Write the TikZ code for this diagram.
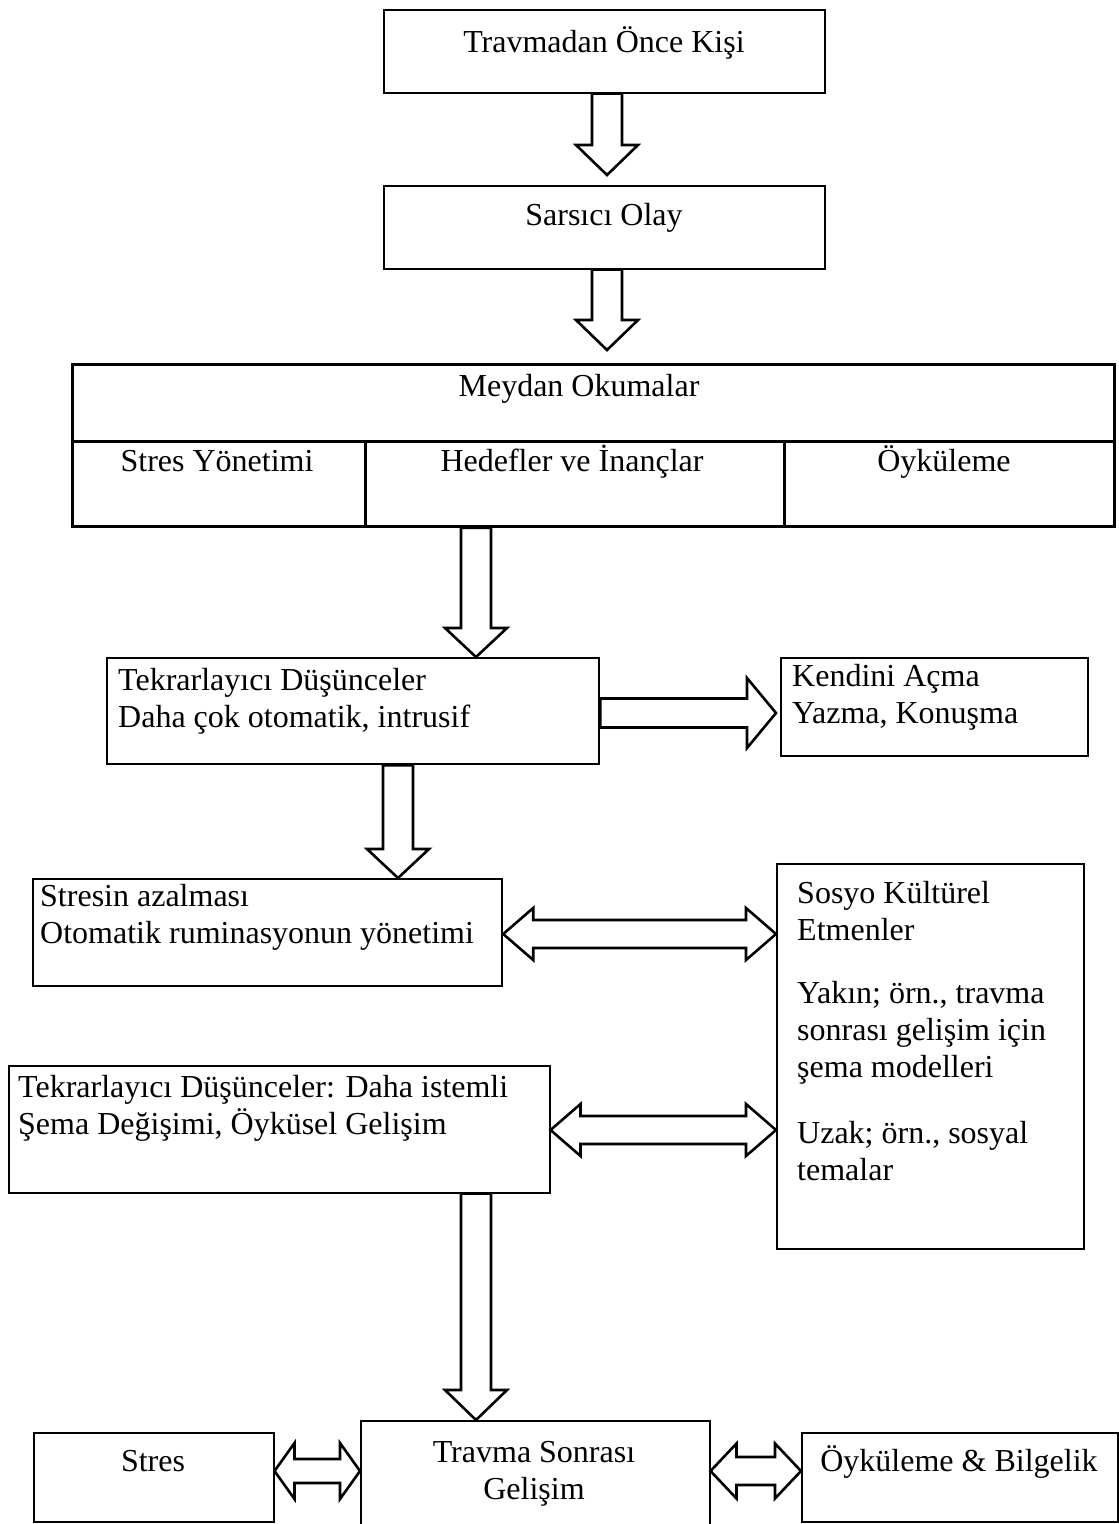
\documentclass[tikz,border=0pt]{standalone}
\usepackage{fontspec}
\setmainfont{Liberation Serif}
\usetikzlibrary{calc}
\tikzset{
  box/.style={draw, line width=1.5pt, rectangle, inner sep=0pt, anchor=north west},
  thickbox/.style={box, line width=2.2pt},
  heavybox/.style={box, line width=2.7pt},
  txt/.style={inner sep=0pt, font=\fontsize{32}{37}\selectfont},
  barrow/.style={draw, line width=2.6pt, fill=white, line join=miter},
}
\newcommand\mybox[6][box]{\node[#1, minimum width={#5-#3}, minimum height={#6-#4}] (#2) at (#3,#4) {};}
% down block arrow: start, tip, shaft half, head half, head length
\newcommand\downarr[5]{\path[barrow] let \p1=(#1), \p2=(#2) in
  (\x2-#3pt,\y1) -- (\x2-#3pt,\y2+#5pt) -- (\x2-#4pt,\y2+#5pt) -- (\x2,\y2) --
  (\x2+#4pt,\y2+#5pt) -- (\x2+#3pt,\y2+#5pt) -- (\x2+#3pt,\y1) -- cycle;}
% right block arrow: start, tip, shaft half, head half, head length
\newcommand\rightarr[5]{\path[barrow] let \p1=(#1), \p2=(#2) in
  (\x1,\y1+#3pt) -- (\x2-#5pt,\y1+#3pt) -- (\x2-#5pt,\y1+#4pt) -- (\x2,\y1) --
  (\x2-#5pt,\y1-#4pt) -- (\x2-#5pt,\y1-#3pt) -- (\x1,\y1-#3pt) -- cycle;}
% double block arrow: left tip, right tip, head length, head half, shaft half
\newcommand\dblarr[5]{\path[barrow] let \p1=(#1), \p2=(#2) in
  (\x1,\y1) -- (\x1+#3pt,\y1+#4pt) -- (\x1+#3pt,\y1+#5pt) -- (\x2-#3pt,\y1+#5pt) --
  (\x2-#3pt,\y1+#4pt) -- (\x2,\y1) -- (\x2-#3pt,\y1-#4pt) -- (\x2-#3pt,\y1-#5pt) --
  (\x1+#3pt,\y1-#5pt) -- (\x1+#3pt,\y1-#4pt) -- cycle;}
\begin{document}
\begin{tikzpicture}[x=1pt,y=-1pt]
\fill[white] (0,0) rectangle (1119,1524);
\useasboundingbox (0,0) rectangle (1119,1524);

% boxes
\mybox{top}{383}{9}{824}{92}
\mybox{sarsici}{383}{185}{824}{268}
\mybox[heavybox]{meydan}{71}{363}{1113}{440}
\mybox[heavybox]{cellA}{71}{440}{364}{525}
\mybox[heavybox]{cellB}{364}{440}{783}{525}
\mybox[heavybox]{cellC}{783}{440}{1113}{525}
\mybox[thickbox]{tekA}{106}{657}{598}{763}
\mybox[thickbox]{kendini}{780}{657}{1087}{755}
\mybox[thickbox]{stresin}{32}{878}{501}{985}
\mybox{sosyo}{776}{863}{1083}{1248}
\mybox{tekB}{8}{1065}{549}{1192}
\mybox{travma}{360}{1420}{709}{1540}
\mybox{stres}{33}{1432}{273}{1521}
\mybox{oyku}{801}{1432}{1117}{1521}

% texts
\node[txt, anchor=base] (tTop) at (604,52) {Travmadan Önce Kişi};
\node[txt, anchor=base] (tSar) at (604,225) {Sarsıcı Olay};
\node[txt, anchor=base] (tMey) at (579,396) {Meydan Okumalar};
\node[txt, anchor=base] (tA) at (217,471) {Stres Yönetimi};
\node[txt, anchor=base] (tB) at (572,471) {Hedefler ve İnançlar};
\node[txt, anchor=base] (tC) at (944,471) {Öyküleme};
\node[txt, anchor=base west] (tTekA) at (118,690)
  {\vtop{\hbox{Tekrarlayıcı Düşünceler}\hbox{Daha çok otomatik, intrusif}}};
\node[txt, anchor=base west] (tKen) at (792,686)
  {\vtop{\hbox{Kendini Açma}\hbox{Yazma, Konuşma}}};
\node[txt, anchor=base west] (tStresin) at (40,906)
  {\vtop{\hbox{Stresin azalması}\hbox{Otomatik ruminasyonun yönetimi}}};
\node[txt, anchor=base west] (tSos) at (797,903)
  {\vtop{\hbox{Sosyo Kültürel}\hbox{Etmenler}\vskip 26pt
   \hbox{Yakın; örn., travma}\hbox{sonrası gelişim için}\hbox{şema modelleri}\vskip 29pt
   \hbox{Uzak; örn., sosyal}\hbox{temalar}}};
\node[txt, anchor=base west] (tTekB) at (18,1097)
  {\vtop{\hbox{Tekrarlayıcı Düşünceler: Daha istemli}\hbox{Şema Değişimi, Öyküsel Gelişim}}};
\node[txt, anchor=base] (tTra) at (534,1462)
  {\begin{tabular}[t]{@{}c@{}}Travma Sonrası\\Gelişim\end{tabular}};
\node[txt, anchor=base] (tStres) at (153,1471) {Stres};
\node[txt, anchor=base] (tOyku) at (959,1471) {Öyküleme \& Bilgelik};

% arrow x positions
\coordinate (ax1) at (607,0);
\coordinate (ax3) at (476,0);
\coordinate (ax4) at (398,0);

% connectors
\downarr{ax1 |- top.south}{$(ax1 |- sarsici.north)+(0,-10)$}{15}{31}{30}
\downarr{ax1 |- sarsici.south}{$(ax1 |- meydan.north)+(0,-13)$}{15}{31}{30}
\downarr{ax3 |- cellB.south}{ax3 |- tekA.north}{15}{31}{29}
\downarr{ax4 |- tekA.south}{ax4 |- stresin.north}{15}{31}{29}
\downarr{ax3 |- tekB.south}{ax3 |- travma.north}{15}{31}{30}
\rightarr{tekA.east |- 0,713}{$(kendini.west |- 0,713)+(-4,0)$}{14.5}{35}{29}
\dblarr{stresin.east |- 0,934}{sosyo.west |- 0,934}{30}{26}{14}
\dblarr{tekB.east |- 0,1130}{sosyo.west |- 0,1130}{30}{26}{14}
\dblarr{stres.east |- 0,1471}{travma.west |- 0,1471}{20}{28}{12}
\dblarr{travma.east |- 0,1471}{oyku.west |- 0,1471}{26}{27.5}{14}
\end{tikzpicture}
\end{document}
